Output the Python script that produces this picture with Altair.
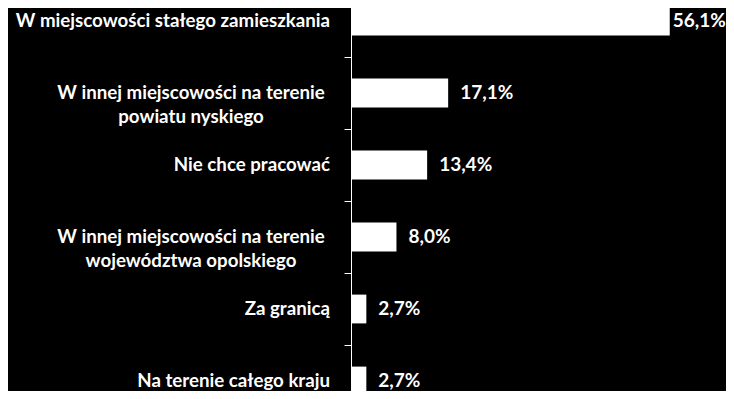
import altair as alt
import pandas as pd

categories = [
    "W miejscowości stałego zamieszkania",
    "W innej miejscowości na terenie powiatu nyskiego",
    "Nie chce pracować",
    "W innej miejscowości na terenie województwa opolskiego",
    "Za granicą",
    "Na terenie całego kraju",
]
label_text = [
    "W miejscowości stałego zamieszkania",
    "W innej miejscowości na terenie\npowiatu nyskiego",
    "Nie chce pracować",
    "W innej miejscowości na terenie\nwojewództwa opolskiego",
    "Za granicą",
    "Na terenie całego kraju",
]
values = [56.1, 17.1, 13.4, 8.0, 2.7, 2.7]
value_text = ["56,1%", "17,1%", "13,4%", "8,0%", "2,7%", "2,7%"]

df = pd.DataFrame({"cat": categories, "label": label_text, "value": values, "vtext": value_text})
df["multi"] = df["label"].str.contains("\n")

FONT = "Lato"

yscale = alt.Scale(domain=categories, range=[-23, 409], paddingInner=0, paddingOuter=0)
y = alt.Y(
    "cat:N",
    sort=categories,
    scale=yscale,
    axis=alt.Axis(
        labels=False, title=None, domainColor="white", tickColor="white",
        tickSize=7, tickBand="extent", domainWidth=1, tickWidth=1, grid=False,
    ),
)
x = alt.X("value:Q", scale=alt.Scale(domain=[0, 66], nice=False), axis=None)

base = alt.Chart(df)

bars = base.mark_bar(color="white", clip=True, height={"band": 0.4}).encode(x=x, y=y)

vlabels_far = base.transform_filter("datum.value < 50").mark_text(
    align="left", baseline="middle", dx=12, color="white",
    font=FONT, fontSize=19, fontWeight="bold",
).encode(x=x, y=y, text="vtext:N")

vlabels_near = base.transform_filter("datum.value >= 50").mark_text(
    align="left", baseline="middle", dx=3, color="white",
    font=FONT, fontSize=19, fontWeight="bold",
).encode(x=x, y=y, text="vtext:N")

single = base.transform_filter("!datum.multi").mark_text(
    align="right", baseline="middle", color="white",
    font=FONT, fontSize=18.7, fontWeight="bold",
).encode(x=alt.value(-21), y=y, text="label:N")

multi = base.transform_filter("datum.multi").mark_text(
    align="center", baseline="middle", color="white", lineBreak="\n", lineHeight=24,
    font=FONT, fontSize=18.7, fontWeight="bold",
).encode(x=alt.value(-160), y=y, text="label:N")

chart = alt.layer(bars, vlabels_far, vlabels_near, single, multi).properties(
    width=375, height=383,
    padding={"left": 343, "top": 0, "right": 0, "bottom": 0},
    autosize=alt.AutoSizeParams(type="none"),
    background="black",
).configure_view(stroke=None)

chart.save("out.html", embed_options={"renderer": "svg", "actions": False})
